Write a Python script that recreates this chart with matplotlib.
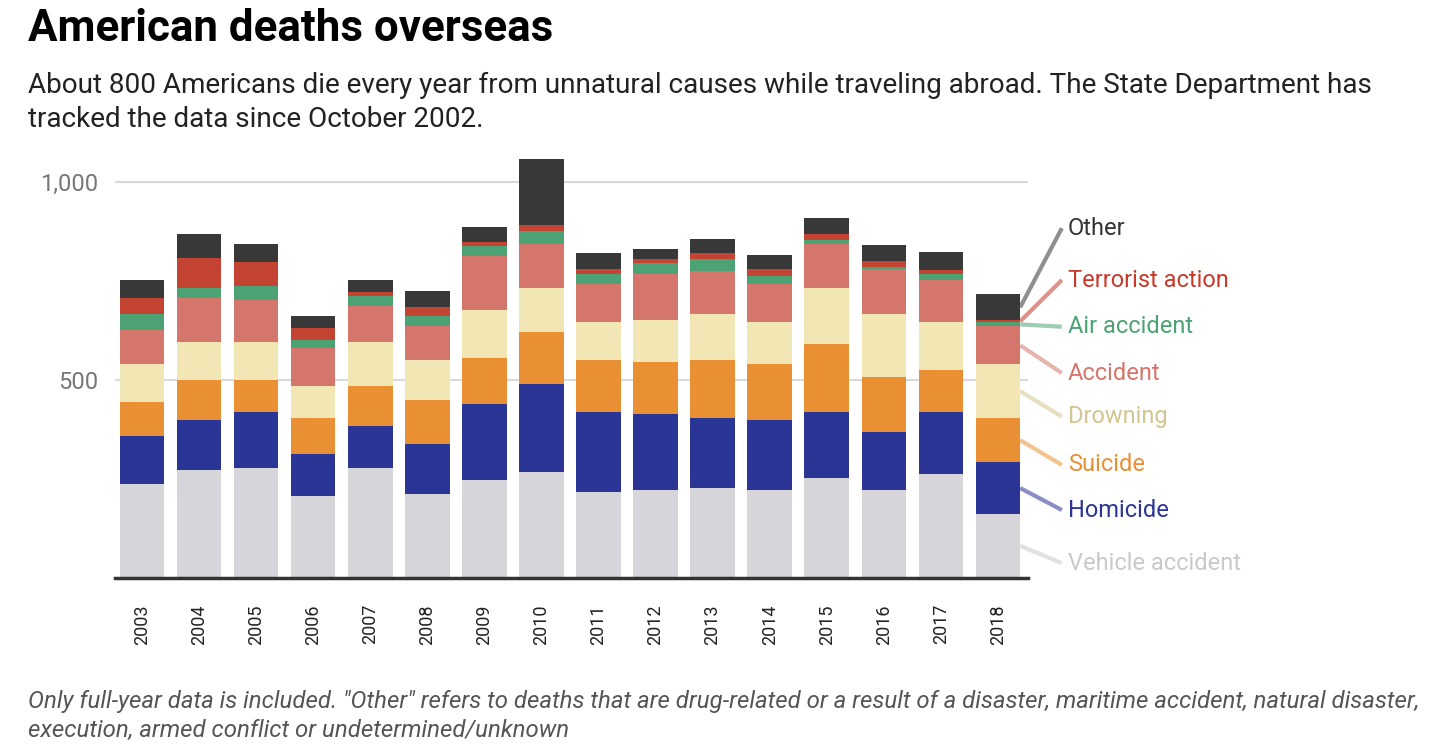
import numpy as np
import matplotlib.pyplot as plt

plt.rcParams['font.family'] = ['Roboto', 'DejaVu Sans']

years = ['2003', '2004', '2005', '2006', '2007', '2008', '2009', '2010',
         '2011', '2012', '2013', '2014', '2015', '2016', '2017', '2018']

# deaths per cause
vehicle   = [237, 272, 277, 206, 277, 211, 247, 267, 216, 221, 226, 221, 252, 221, 262, 161]
homicide  = [121, 126, 141, 106, 106, 126, 192, 222, 202, 192, 177, 177, 167, 146, 157, 131]
suicide   = [86, 101, 81, 91, 101, 111, 116, 131, 131, 131, 146, 141, 172, 141, 106, 111]
drowning  = [96, 96, 96, 81, 111, 101, 121, 111, 96, 106, 116, 106, 141, 157, 121, 136]
accident  = [86, 111, 106, 96, 91, 86, 136, 111, 96, 116, 111, 96, 111, 116, 106, 96]
air       = [40, 25, 35, 20, 25, 25, 25, 35, 25, 30, 30, 20, 10, 5, 15, 10]
terrorist = [40, 76, 61, 30, 10, 25, 10, 15, 15, 10, 15, 20, 15, 15, 10, 5]
other     = [46, 61, 46, 30, 30, 40, 40, 167, 40, 25, 35, 35, 40, 40, 46, 66]

names = ['Vehicle accident', 'Homicide', 'Suicide', 'Drowning',
         'Accident', 'Air accident', 'Terrorist action', 'Other']
series = [vehicle, homicide, suicide, drowning, accident, air, terrorist, other]
colors = ['#d6d5da', '#2b3595', '#e99034', '#f2e7b4',
          '#d4766b', '#4ca274', '#c44434', '#383838']
text_colors = ['#c9c9cd', '#2b3595', '#e99034', '#d3c58f',
               '#d4766b', '#4ca274', '#c8392b', '#333333']
# where the labels sit on the right (data units)
label_y = [37, 171, 285, 407, 517, 634, 752, 883]

fig = plt.figure(figsize=(14.4, 7.54), dpi=100)
ax = fig.add_axes([0.080, 0.2338, 0.634, 0.567])

x = np.arange(len(years))
width = 0.78
bottom = np.zeros(len(years))
for vals, c in zip(series, colors):
    ax.bar(x, vals, width, bottom=bottom, color=c, linewidth=0, zorder=2)
    bottom += np.array(vals)

ax.set_xlim(-0.47, 15.53)
ax.set_ylim(0, 1080)
ax.set_yticks([500, 1000])
ax.set_yticklabels(['500', '1,000'])
ax.set_xticks(x)
ax.set_xticklabels(years, rotation=90)
ax.yaxis.grid(True, color='#d9d9d9', lw=1.5, zorder=0)
ax.set_axisbelow(True)
for s in ['top', 'right', 'left']:
    ax.spines[s].set_visible(False)
ax.spines['bottom'].set_color('#333333')
ax.spines['bottom'].set_linewidth(2.5)
ax.spines['bottom'].set_zorder(3)
ax.tick_params(axis='both', length=0)
ax.tick_params(axis='y', labelsize=17, labelcolor='#777777', pad=12)
ax.tick_params(axis='x', labelsize=13, labelcolor='#222222', pad=19)

# leader lines + labels off the last bar
last = len(years) - 1
base = 0
for name, vals, c, tc, ly in zip(names, series, colors, text_colors, label_y):
    mid = base + vals[last] / 2
    base += vals[last]
    ax.plot([last + width / 2, 16.12], [mid, ly], color=tc, alpha=0.55,
            lw=3, clip_on=False, solid_capstyle='butt', zorder=1)
    ax.text(16.23, ly, name, color=tc, fontsize=17, va='center', ha='left',
            clip_on=False)

fig.text(28 / 1440, 1 - 41 / 754, 'American deaths overseas',
         fontsize=31.6, fontweight='bold', color='#000000', va='baseline')
fig.text(28 / 1440, 1 - 93 / 754,
         'About 800 Americans die every year from unnatural causes while '
         'traveling abroad. The State Department has',
         fontsize=20.1, color='#222222', va='baseline')
fig.text(28 / 1440, 1 - 127 / 754, 'tracked the data since October 2002.',
         fontsize=20.1, color='#222222', va='baseline')
fig.text(28 / 1440, 1 - 708 / 754,
         'Only full-year data is included. "Other" refers to deaths that are '
         'drug-related or a result of a disaster, maritime accident, natural disaster,',
         fontsize=17.3, style='italic', color='#555555', va='baseline')
fig.text(28 / 1440, 1 - 737 / 754,
         'execution, armed conflict or undetermined/unknown',
         fontsize=17.3, style='italic', color='#555555', va='baseline')

fig.savefig('out.png', dpi=100)
